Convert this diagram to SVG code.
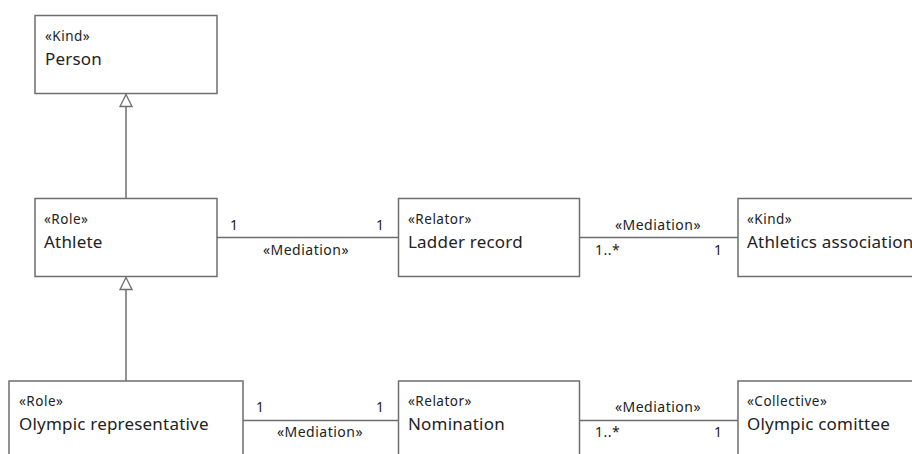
<svg xmlns="http://www.w3.org/2000/svg" width="912" height="454" viewBox="0 0 912 454">
  <style>
    .box { fill: #ffffff; stroke: #6e6e6e; stroke-width: 1.5; }
    .edge { fill: none; stroke: #6e6e6e; stroke-width: 1.5; }
    .stereo { font-family: "Noto Sans", "Open Sans", sans-serif; font-size: 13.5px; letter-spacing: 0.5px; fill: #222222; }
    .name { font-family: "Noto Sans", "Open Sans", sans-serif; font-size: 17px; letter-spacing: 0.2px; fill: #222222; }
    .lbl { font-family: "Noto Sans", "Open Sans", sans-serif; font-size: 14px; letter-spacing: 0.5px; fill: #222222; }
  </style>
  <defs>
    <marker id="gen" viewBox="0 0 14 14" refX="13" refY="7" markerWidth="14" markerHeight="14" markerUnits="userSpaceOnUse" orient="auto">
      <path d="M1,1 L13,7 L1,13 Z" fill="#ffffff" stroke="#6e6e6e" stroke-width="1.3"/>
    </marker>
  </defs>
  <rect width="912" height="454" fill="#ffffff"/>

  <g id="connectors">
    <!-- generalizations -->
    <line class="edge" x1="126" y1="198" x2="126" y2="94.5" marker-end="url(#gen)"/>
    <line class="edge" x1="126" y1="381" x2="126" y2="277.5" marker-end="url(#gen)"/>
    <!-- mediations -->
    <line class="edge" x1="217" y1="237.5" x2="398" y2="237.5"/>
    <line class="edge" x1="580" y1="237.5" x2="738" y2="237.5"/>
    <line class="edge" x1="243" y1="420.5" x2="398" y2="420.5"/>
    <line class="edge" x1="580" y1="420.5" x2="738" y2="420.5"/>
    <!-- labels -->
    <text class="lbl" x="230" y="230">1</text>
    <text class="lbl" x="376" y="230">1</text>
    <text class="lbl" x="306" y="255" text-anchor="middle">«Mediation»</text>
    <text class="lbl" x="658" y="230" text-anchor="middle">«Mediation»</text>
    <text class="lbl" x="595" y="255">1..*</text>
    <text class="lbl" x="714" y="255">1</text>
    <text class="lbl" x="256" y="412">1</text>
    <text class="lbl" x="376" y="412">1</text>
    <text class="lbl" x="235" y="429">-</text>
    <text class="lbl" x="320" y="437" text-anchor="middle">«Mediation»</text>
    <text class="lbl" x="658" y="412" text-anchor="middle">«Mediation»</text>
    <text class="lbl" x="595" y="437">1..*</text>
    <text class="lbl" x="714" y="437">1</text>
  </g>

  <g id="person">
    <rect class="box" x="35" y="15.5" width="182" height="78"/>
    <text class="stereo" x="45" y="41">«Kind»</text>
    <text class="name" x="45" y="65">Person</text>
  </g>

  <g id="athlete">
    <rect class="box" x="35" y="198.5" width="182" height="78"/>
    <text class="stereo" x="44" y="224">«Role»</text>
    <text class="name" x="44" y="248">Athlete</text>
  </g>

  <g id="ladder-record">
    <rect class="box" x="398.5" y="198.5" width="181" height="78"/>
    <text class="stereo" x="408" y="224">«Relator»</text>
    <text class="name" x="408" y="248">Ladder record</text>
  </g>

  <g id="athletics-association">
    <rect class="box" x="738" y="198.5" width="190" height="78"/>
    <text class="stereo" x="747" y="224">«Kind»</text>
    <text class="name" x="747" y="248">Athletics association</text>
  </g>

  <g id="olympic-representative">
    <rect class="box" x="9" y="381" width="234" height="90"/>
    <text class="stereo" x="19" y="406">«Role»</text>
    <text class="name" x="19" y="430">Olympic representative</text>
  </g>

  <g id="nomination">
    <rect class="box" x="398.5" y="381" width="181" height="90"/>
    <text class="stereo" x="408" y="406">«Relator»</text>
    <text class="name" x="408" y="430">Nomination</text>
  </g>

  <g id="olympic-comittee">
    <rect class="box" x="738" y="381" width="190" height="90"/>
    <text class="stereo" x="747" y="406">«Collective»</text>
    <text class="name" x="747" y="430">Olympic comittee</text>
  </g>
</svg>
